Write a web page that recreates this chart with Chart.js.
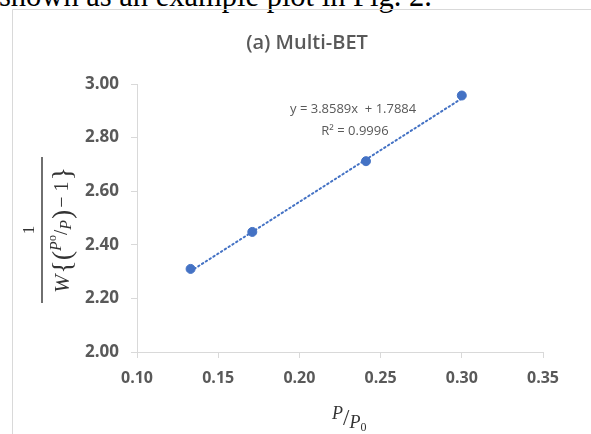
<!DOCTYPE html>
<html>
<head>
<meta charset="utf-8">
<script src="https://cdn.jsdelivr.net/npm/chart.js@4.4.0/dist/chart.umd.min.js"></script>
<style>
  html, body { margin: 0; padding: 0; background: #fff; overflow: hidden; }
  #wrap { position: relative; width: 591px; height: 434px; }
  #pageText {
    position: absolute; left: -1px; top: -21px;
    font-family: "Liberation Serif", "DejaVu Serif", serif;
    font-size: 30.5px; white-space: nowrap; color: #000;
  }
  #chart { position: absolute; left: 0; top: 0; }
</style>
</head>
<body>
<div id="wrap">
  <div id="pageText">shown as an example plot in Fig. 2.</div>
  <canvas id="chart" width="591" height="434"></canvas>
</div>
<script>
// data
const pressureRatio = [0.133, 0.171, 0.241, 0.300];
const betValue = [2.31, 2.448, 2.712, 2.957];
const xTicks = [0.10, 0.15, 0.20, 0.25, 0.30, 0.35];
const yTicks = [2.00, 2.20, 2.40, 2.60, 2.80, 3.00];
const trendSlope = 3.8589;
const trendIntercept = 1.7884;
const rSquared = 0.9996;
const chartTitle = '(a) Multi-BET';

const blue = '#4472C4';
const axisGrey = '#d9d9d9';
const textGrey = '#595959';
const mathInk = '#333333';

const points = pressureRatio.map((x, i) => ({ x: x, y: betValue[i] }));
const xFirst = pressureRatio[0];
const xLast = pressureRatio[pressureRatio.length - 1];
const trendPoints = [xFirst, xLast].map(x => ({ x: x, y: trendSlope * x + trendIntercept }));

// draws a run of text pieces, each with its own font and vertical offset
function drawPieces(ctx, pieces, x, y) {
  let cx = x;
  pieces.forEach(p => {
    ctx.font = p.font;
    ctx.fillText(p.text, cx, y + (p.dy || 0));
    cx += ctx.measureText(p.text).width + (p.gap || 0);
  });
}
function piecesWidth(ctx, pieces) {
  let w = 0;
  pieces.forEach(p => { ctx.font = p.font; w += ctx.measureText(p.text).width + (p.gap || 0); });
  return w;
}

const serif = '"Liberation Serif", "DejaVu Serif", serif';

const overlay = {
  id: 'overlay',
  afterDraw(chart) {
    const ctx = chart.ctx;
    ctx.save();

    // outer frame of the embedded chart
    ctx.strokeStyle = axisGrey;
    ctx.lineWidth = 1;
    ctx.beginPath();
    ctx.moveTo(12.5, 434);
    ctx.lineTo(12.5, 9.5);
    ctx.lineTo(591, 9.5);
    ctx.stroke();

    // title
    ctx.fillStyle = textGrey;
    ctx.textAlign = 'center';
    ctx.textBaseline = 'middle';
    ctx.font = '600 20px "Open Sans"';
    ctx.fillText(chartTitle, 307, 43);

    // trendline label
    ctx.font = '13px "Open Sans"';
    ctx.textAlign = 'left';
    ctx.fillText('y = ' + trendSlope.toFixed(4) + 'x  + ' + trendIntercept.toFixed(4), 290, 109);
    ctx.textAlign = 'center';
    ctx.fillText('R\u00b2 = ' + rSquared.toFixed(4), 355, 131);

    // x axis title: P / P0
    ctx.fillStyle = mathInk;
    ctx.textAlign = 'left';
    ctx.textBaseline = 'alphabetic';
    drawPieces(ctx, [
      { text: 'P', font: 'italic 18px ' + serif, dy: -6, gap: 0 },
      { text: '/', font: '23px ' + serif, dy: 0, gap: 0 },
      { text: 'P', font: 'italic 18px ' + serif, dy: 3, gap: 0 },
      { text: '0', font: '12px ' + serif, dy: 6 }
    ], 332, 425);

    // y axis title: 1 / W{(P0/P) - 1}, rotated
    ctx.translate(42, 230);
    ctx.rotate(-Math.PI / 2);
    ctx.textAlign = 'center';
    ctx.textBaseline = 'alphabetic';
    ctx.font = '17px ' + serif;
    ctx.fillText('1', 0, -8);
    ctx.strokeStyle = mathInk;
    ctx.lineWidth = 1.4;
    ctx.beginPath();
    ctx.moveTo(-73, 0);
    ctx.lineTo(73, 0);
    ctx.stroke();
    ctx.textAlign = 'left';
    const denom = [
      { text: 'W', font: 'italic 22px ' + serif, dy: 0, gap: 1 },
      { text: '{', font: '28px ' + serif, dy: 2 },
      { text: '(', font: '28px ' + serif, dy: 2 },
      { text: 'P', font: 'italic 16px ' + serif, dy: -8 },
      { text: 'o', font: '12px ' + serif, dy: -13 },
      { text: '/', font: '19px ' + serif, dy: -2 },
      { text: 'P', font: 'italic 16px ' + serif, dy: 2, gap: 1 },
      { text: ')', font: '28px ' + serif, dy: 2, gap: 2 },
      { text: '\u2212 1', font: '20px ' + serif, dy: -1, gap: 1 },
      { text: '}', font: '28px ' + serif, dy: 2 }
    ];
    const dw = piecesWidth(ctx, denom);
    drawPieces(ctx, denom, -dw / 2, 27);

    ctx.restore();
  }
};

new Chart(document.getElementById('chart'), {
  type: 'scatter',
  data: {
    datasets: [
      {
        type: 'line',
        data: trendPoints,
        borderColor: blue,
        borderWidth: 2,
        borderDash: [1.5, 3],
        borderCapStyle: 'round',
        pointRadius: 0,
        fill: false
      },
      {
        data: points,
        backgroundColor: blue,
        borderColor: blue,
        pointRadius: 4.5,
        pointHoverRadius: 4.5
      }
    ]
  },
  options: {
    responsive: false,
    animation: false,
    events: [],
    layout: { padding: { left: 0, right: 48, top: 84, bottom: 0 } },
    plugins: {
      legend: { display: false },
      title: { display: false },
      tooltip: { enabled: false }
    },
    scales: {
      x: {
        type: 'linear',
        min: xTicks[0],
        max: xTicks[xTicks.length - 1],
        afterBuildTicks: s => { s.ticks = xTicks.map(v => ({ value: v })); },
        afterFit: s => { s.height = 82; },
        grid: { drawOnChartArea: false, drawTicks: true, tickLength: 6, color: axisGrey },
        border: { color: axisGrey },
        ticks: {
          font: { family: 'Open Sans', size: 16, weight: 'bold' },
          color: textGrey,
          padding: 11,
          maxRotation: 0,
          callback: v => v.toFixed(2)
        }
      },
      y: {
        type: 'linear',
        min: yTicks[0],
        max: yTicks[yTicks.length - 1],
        afterBuildTicks: s => { s.ticks = yTicks.map(v => ({ value: v })); },
        afterFit: s => { s.width = 137; },
        grid: { drawOnChartArea: false, drawTicks: true, tickLength: 6, color: axisGrey },
        border: { color: axisGrey },
        ticks: {
          font: { family: 'Open Sans', size: 17, weight: 'bold' },
          color: textGrey,
          padding: 12,
          callback: v => v.toFixed(2)
        }
      }
    }
  },
  plugins: [overlay]
});
</script>
</body>
</html>
